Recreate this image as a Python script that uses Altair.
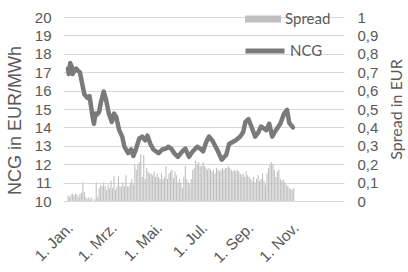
import altair as alt
import pandas as pd

# ---- data ----
start_date = "2015-01-01"

ncg_day = [0, 1, 3, 5, 6, 9, 11, 13, 16, 19, 22, 26, 29, 33, 35, 37, 39, 42, 44, 48,
           51, 55, 59, 62, 65, 69, 73, 76, 81, 85, 88, 91, 96, 100, 104, 107, 111, 115,
           122, 127, 132, 135, 139, 143, 148, 154, 158, 163, 167, 174, 178, 182, 186,
           190, 195, 202, 207, 213, 217, 226, 232, 236, 239, 243, 247, 252, 256, 260,
           267, 271, 275, 280, 286, 291, 295, 298, 303]
ncg_eur = [17.2, 16.9, 17.5, 17.3, 16.9, 17.1, 17.2, 17.1, 17.0, 16.4, 15.8, 15.6, 15.7,
           14.6, 14.2, 14.75, 14.7, 14.85, 15.3, 15.95, 15.55, 14.75, 14.3, 14.75, 14.55,
           13.85, 13.5, 12.95, 12.6, 12.8, 12.45, 12.75, 13.4, 13.5, 13.3, 13.55, 13.1,
           12.8, 12.6, 12.8, 12.85, 12.95, 12.85, 12.6, 12.4, 12.7, 12.85, 12.4, 12.65,
           12.95, 12.85, 12.7, 13.2, 13.5, 13.25, 12.7, 12.25, 12.5, 13.1, 13.3, 13.5,
           13.75, 14.3, 14.45, 14.05, 13.5, 13.7, 14.05, 13.85, 14.2, 13.5, 13.85, 14.2,
           14.75, 14.95, 14.25, 14.0]

spread_day = list(range(0, 305, 2))
spread_eur = [
    0.03, 0.02, 0.035, 0.04, 0.03, 0.04, 0.035, 0.02, 0.04, 0.045, 0.10, 0.05, 0.02, 0.01, 0.02,
    0.01, 0.02, 0.0, 0.01, 0.10, 0.02, 0.07, 0.09, 0.08, 0.10, 0.08, 0.06, 0.09, 0.07, 0.11,
    0.07, 0.135, 0.06, 0.08, 0.135, 0.08, 0.08, 0.10, 0.08, 0.14, 0.08, 0.08, 0.10, 0.12, 0.09,
    0.20, 0.17, 0.20, 0.21, 0.255, 0.13, 0.25, 0.12, 0.18, 0.16, 0.15, 0.15, 0.14, 0.16, 0.13,
    0.15, 0.13, 0.12, 0.15, 0.12, 0.13, 0.19, 0.12, 0.15, 0.16, 0.17, 0.125, 0.16, 0.14, 0.10,
    0.12, 0.10, 0.07, 0.13, 0.19, 0.12, 0.10, 0.09, 0.12, 0.17, 0.18, 0.22, 0.20, 0.21, 0.19,
    0.19, 0.21, 0.19, 0.18, 0.17, 0.18, 0.17, 0.16, 0.17, 0.15, 0.18, 0.17, 0.16, 0.17, 0.18,
    0.17, 0.18, 0.18, 0.19, 0.18, 0.17, 0.16, 0.17, 0.16, 0.17, 0.16, 0.15, 0.14, 0.15, 0.13,
    0.16, 0.14, 0.13, 0.12, 0.11, 0.13, 0.10, 0.12, 0.14, 0.11, 0.12, 0.15, 0.11, 0.09, 0.15,
    0.18, 0.20, 0.21, 0.20, 0.17, 0.13, 0.16, 0.17, 0.12, 0.11, 0.115, 0.10, 0.09, 0.08, 0.07,
    0.065, 0.06, 0.07]

ncg_ticks = [10, 11, 12, 13, 14, 15, 16, 17, 18, 19, 20]
spread_ticks = [0, 0.1, 0.2, 0.3, 0.4, 0.5, 0.6, 0.7, 0.8, 0.9, 1.0]
tick_months = [1, 3, 5, 7, 9, 11]
tick_labels = ["1. Jan.", "1. Mrz.", "1. Mai.", "1. Jul.", "1. Sep.", "1. Nov."]

# ---- tables ----
base = pd.Timestamp(start_date)
def to_iso(days):
    return [(base + pd.Timedelta(days=d)).strftime("%Y-%m-%dT00:00:00Z") for d in days]

ncg_df = pd.DataFrame({"date": to_iso(ncg_day), "value": ncg_eur, "series": "NCG"})
spread_df = pd.DataFrame({"date": to_iso(spread_day), "value": spread_eur, "series": "Spread"})

month_names = [""] * 12
for m, lab in zip(tick_months, tick_labels):
    month_names[m - 1] = lab
label_expr = "[" + ",".join("'%s'" % s for s in month_names) + "][utcmonth(datum.value)]"

TXT = "#595959"
GRID = "#d9d9d9"
FONT = "Liberation Sans"

x_enc = alt.X(
    "date:T",
    scale=alt.Scale(type="utc",
                    domain=[alt.DateTime(year=2015, month=1, date=1, utc=True),
                            alt.DateTime(year=2016, month=1, date=1, utc=True)]),
    axis=alt.Axis(
        values=[alt.DateTime(year=2015, month=m, date=1, utc=True) for m in tick_months],
        labelExpr=label_expr, labelAngle=-45, labelAlign="right", labelBaseline="middle",
        labelPadding=24, labelOffset=2, labelFontSize=15.5, labelFont=FONT, labelColor=TXT,
        labelOverlap=False, labelBound=False, labelFlush=False,
        grid=False, domain=False, ticks=False, title=None),
)

bars = alt.Chart(spread_df).mark_bar(width=1.1).encode(
    x=x_enc,
    y=alt.Y("value:Q", scale=alt.Scale(domain=[0, 1]),
            axis=alt.Axis(orient="right", values=spread_ticks,
                          labelExpr="replace(format(datum.value, '~g'), '.', ',')",
                          labelFont=FONT, labelFontSize=15, labelColor=TXT, labelPadding=13,
                          labelAlign="left",
                          grid=False, domain=False, ticks=False,
                          title="Spread in EUR", titleFont="Lato", titleFontSize=16,
                          titleFontWeight="normal", titleColor=TXT, titleAngle=270,
                          titleBaseline="top", titleX=44)),
    fill=alt.Fill("series:N", scale=alt.Scale(domain=["Spread"], range=["#c0c0c0"]),
                  legend=alt.Legend(orient="none", legendX=182, legendY=-16, title=None,
                                    symbolType="M-1,-0.2H1V0.2H-1Z", symbolSize=1296,
                                    symbolStrokeWidth=0, symbolOpacity=1,
                                    labelFont="Lato", labelFontSize=15, labelColor=TXT,
                                    labelOffset=4, padding=0)),
)

line = alt.Chart(ncg_df).mark_line(strokeWidth=4.5, strokeJoin="round", strokeCap="round").encode(
    x=x_enc,
    y=alt.Y("value:Q", scale=alt.Scale(domain=[10, 20]),
            axis=alt.Axis(orient="left", values=ncg_ticks, labelFont=FONT, labelFontSize=15,
                          labelColor=TXT, labelPadding=12, grid=True, gridColor=GRID,
                          gridWidth=1, domain=False, ticks=False,
                          title="NCG in EUR/MWh", titleFont=FONT, titleFontSize=18,
                          titleFontWeight="normal", titleColor=TXT, titleX=-39, titleY=103)),
    stroke=alt.Stroke("series:N", scale=alt.Scale(domain=["NCG"], range=["#7a7a7a"]),
                      legend=alt.Legend(orient="none", legendX=180, legendY=12, title=None,
                                        symbolType="stroke", symbolSize=1521,
                                        symbolStrokeWidth=5,
                                        labelFont="Lato", labelFontSize=15, labelColor=TXT,
                                        labelOffset=3, padding=0)),
)

chart = alt.layer(bars, line).resolve_scale(
    y="independent", fill="independent", stroke="independent"
).properties(
    width=281, height=184,
    autosize=alt.AutoSizeParams(type="none"),
    padding={"left": 63, "top": 17, "right": 64, "bottom": 71},
).configure_view(stroke=None)

chart.save("out.html", embed_options={"renderer": "svg", "actions": False})
